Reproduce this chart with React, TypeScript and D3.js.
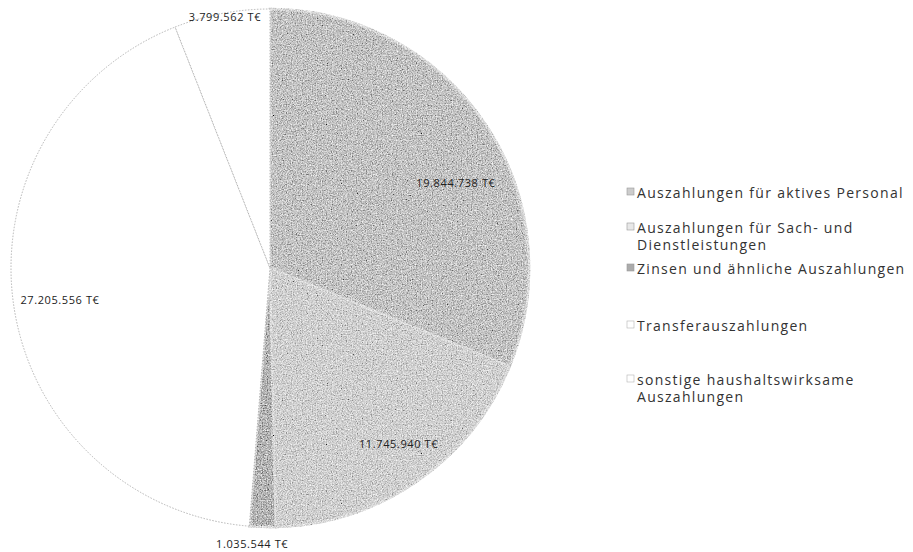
import React from "react";
import * as d3 from "d3";

// Auszahlungen nach Arten (in T€)
const categories = [
  "Auszahlungen für aktives Personal",
  "Auszahlungen für Sach- und Dienstleistungen",
  "Zinsen und ähnliche Auszahlungen",
  "Transferauszahlungen",
  "sonstige haushaltswirksame Auszahlungen",
];
const values = [19844738, 11745940, 1035544, 27205556, 3799562];
const valueLabels = ["19.844.738 T€", "11.745.940 T€", "1.035.544 T€", "27.205.556 T€", "3.799.562 T€"];
const legendLines = [
  ["Auszahlungen für aktives Personal"],
  ["Auszahlungen für Sach- und", "Dienstleistungen"],
  ["Zinsen und ähnliche Auszahlungen"],
  ["Transferauszahlungen"],
  ["sonstige haushaltswirksame", "Auszahlungen"],
];

const fills = ["#cccccc", "#e8e8e8", "#ababab", "#ffffff", "#ffffff"];
const strokes = ["#ffffff", "#ffffff", "#ffffff", "#b4b4b4", "#b4b4b4"];
// label placement: radius as a fraction of the pie radius, angle shift in radians
const labelRadius = [0.79, 0.84, 1.065, 0.82, 0.985];
const labelShift = [0.16, -0.03, 0.036, 0, 0.01];
const legendTop = [192, 227, 268, 325, 379];

const W = 913;
const H = 552;
const cx = 270;
const cy = 268;
const R = 259;

export default function App() {
  const pie = d3.pie<number>().sort(null).value((d) => d);
  const arcs = pie(values);
  const arc = d3.arc<d3.PieArcDatum<number>>().innerRadius(0).outerRadius(R);
  const font = "'Open Sans', 'Liberation Sans', sans-serif";

  return (
    <svg
      width={W}
      height={H}
      style={{ position: "absolute", left: 0, top: 0, background: "#ffffff" }}
    >
      <defs>
        {/* fine speckle texture on the shaded slices */}
        <filter id="grain" x="-5%" y="-5%" width="110%" height="110%">
          <feTurbulence type="fractalNoise" baseFrequency="0.8" numOctaves="2" seed="11" result="noise" />
          <feColorMatrix in="noise" type="saturate" values="0" result="grey" />
          <feComponentTransfer in="grey" result="contrast">
            <feFuncR type="linear" slope="1.6" intercept="-0.3" />
            <feFuncG type="linear" slope="1.6" intercept="-0.3" />
            <feFuncB type="linear" slope="1.6" intercept="-0.3" />
            <feFuncA type="linear" slope="0" intercept="1" />
          </feComponentTransfer>
          <feBlend in="SourceGraphic" in2="contrast" mode="soft-light" result="mixed" />
          <feComposite in="mixed" in2="SourceGraphic" operator="in" />
        </filter>
      </defs>
      <g transform={`translate(${cx},${cy})`}>
        {arcs.map((a, i) => (
          <path
            key={i}
            d={arc(a) || ""}
            fill={fills[i]}
            stroke={strokes[i]}
            strokeWidth={i < 3 ? 2.5 : 1}
            strokeDasharray={i >= 3 ? "1.5 1.5" : undefined}
            filter={i < 3 ? "url(#grain)" : undefined}
          />
        ))}
        {arcs.map((a, i) => {
          const ang = (a.startAngle + a.endAngle) / 2 + labelShift[i];
          const r = R * labelRadius[i];
          const x = Math.sin(ang) * r;
          const y = -Math.cos(ang) * r;
          return (
            <text
              key={i}
              x={x}
              y={y}
              textAnchor="middle"
              dominantBaseline="central"
              fontFamily={font}
              fontSize={11}
              letterSpacing={0.6}
              fill="#222"
            >
              {valueLabels[i]}
            </text>
          );
        })}
      </g>
      <g fontFamily={font} fontSize={14} letterSpacing={1.3} fill="#333">
        {categories.map((c, i) => (
          <g key={c} transform={`translate(627,${legendTop[i]})`}>
            <rect
              x={0}
              y={-4}
              width={7}
              height={7}
              fill={fills[i]}
              stroke={i >= 3 ? "#b4b4b4" : "#999"}
              strokeWidth={0.6}
            />
            {legendLines[i].map((line, j) => (
              <text key={j} x={10} y={j * 17.5} dominantBaseline="central">
                {line}
              </text>
            ))}
          </g>
        ))}
      </g>
    </svg>
  );
}
